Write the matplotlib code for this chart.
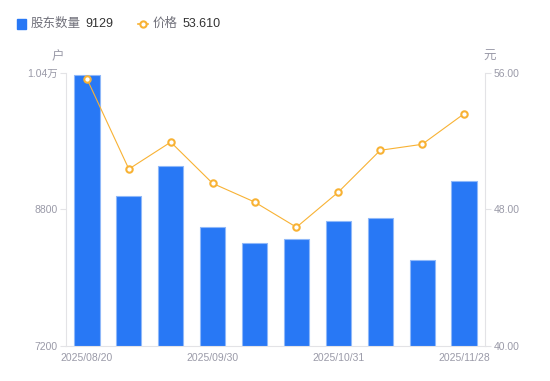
import matplotlib
matplotlib.use('Agg')
import matplotlib.pyplot as plt
from matplotlib.lines import Line2D
from matplotlib.patches import Rectangle
import numpy as np

plt.rcParams['font.family'] = ['Liberation Sans', 'Noto Sans CJK SC', 'DejaVu Sans']

dates = ['2025/08/20', '2025/08/29', '2025/09/10', '2025/09/30', '2025/10/10',
         '2025/10/20', '2025/10/31', '2025/11/10', '2025/11/20', '2025/11/28']
holders = [10380, 8962, 9313, 8598, 8411, 8450, 8665, 8697, 8204, 9129]
price = [55.66, 50.37, 51.95, 49.53, 48.44, 46.96, 49.02, 51.47, 51.82, 53.61]
left_ticks = [7200, 8800, 10400]
left_labels = ['7200', '8800', '1.04万']
right_ticks = [40, 48, 56]

bar_color = '#2878f5'
line_color = '#f8b234'
label_gray = '#9a9aa8'
axis_gray = '#e3e3e6'

fig = plt.figure(figsize=(5.5, 3.81), dpi=100)
ax = fig.add_axes([0.12, 0.0919, 0.7618, 0.7165])
x = np.arange(len(dates))
ax.bar(x, holders, width=0.6, color=bar_color, edgecolor='#8fb8f9', linewidth=0.8, zorder=1)
ax.set_xlim(-0.5, len(dates) - 0.5)
ax.set_ylim(7200, 10400)
ax.set_yticks(left_ticks)
ax.set_yticklabels(left_labels)
ax.set_xticks(x[::3])
ax.set_xticklabels(dates[::3])

ax2 = ax.twinx()
ax2.plot(x, price, color=line_color, lw=0.8, marker='o', ms=4.6, mfc='white',
         mec=line_color, mew=1.5, zorder=3)
ax2.set_ylim(40, 56)
ax2.set_yticks(right_ticks)
ax2.set_yticklabels(['%.2f' % v for v in right_ticks])

for a in (ax, ax2):
    for s in a.spines.values():
        s.set_visible(False)
    a.tick_params(labelsize=7.5, colors=label_gray, length=4, width=0.8, pad=2)
    a.tick_params(axis='y', color=axis_gray)
ax.tick_params(axis='x', length=0, pad=5)
ax.spines['left'].set_visible(True)
ax.spines['left'].set_color(axis_gray)
ax.spines['bottom'].set_visible(True)
ax.spines['bottom'].set_color(axis_gray)
ax2.spines['right'].set_visible(True)
ax2.spines['right'].set_color(axis_gray)

fig.text(58 / 550, 1 - 57 / 381, '户', fontsize=9, color=label_gray, ha='center', va='center')
fig.text(490 / 550, 1 - 57 / 381, '元', fontsize=9, color=label_gray, ha='center', va='center')

# legend
fig.patches.append(Rectangle((17 / 550, 1 - 29 / 381), 9 / 550, 10 / 381,
                             transform=fig.transFigure, color=bar_color, figure=fig))
fig.text(31 / 550, 1 - 24 / 381, '股东数量', fontsize=9, color='#70707a', va='center')
fig.text(85 / 550, 1 - 24 / 381, '9129', fontsize=9, color='#333333', va='center')
fig.lines.append(Line2D([138 / 550, 148 / 550], [1 - 24 / 381] * 2, transform=fig.transFigure,
                        color=line_color, lw=1.2, figure=fig))
fig.lines.append(Line2D([143 / 550], [1 - 24 / 381], transform=fig.transFigure, color=line_color,
                        marker='o', ms=4.5, mfc='white', mew=1.5, figure=fig))
fig.text(153 / 550, 1 - 24 / 381, '价格', fontsize=9, color='#70707a', va='center')
fig.text(183 / 550, 1 - 24 / 381, '53.610', fontsize=9, color='#333333', va='center')

fig.savefig('out.png', dpi=100)
